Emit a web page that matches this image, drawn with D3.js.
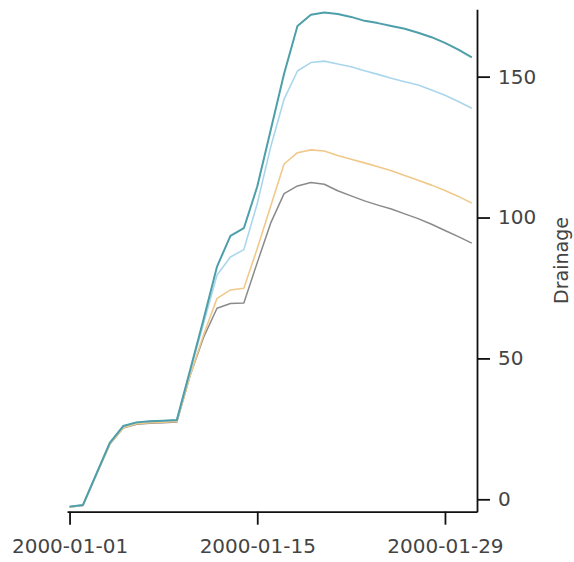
<!DOCTYPE html>
<html>
<head>
<meta charset="utf-8">
<script src="https://cdn.jsdelivr.net/npm/d3@7"></script>
<style>
  body { margin: 0; background: #fff; }
  svg { display: block; }
</style>
</head>
<body>
<div id="chart"></div>
<script>
// daily dates, 2000-01-01 .. 2000-01-31
const startDate = "2000-01-01";
const nDays = 31;
const tickDates = ["2000-01-01", "2000-01-15", "2000-01-29"];
const yTicks = [0, 50, 100, 150];

// drainage series (one value per day)
const seriesTeal = [-2.6, -2.0, 9, 20, 26, 27.3, 27.7, 27.9, 28.1, 46, 64, 82.6, 93.5, 96.2, 111, 131, 151, 168, 172, 172.8, 172.2, 171.2, 169.8, 169, 168, 167, 165.6, 164, 162, 159.6, 156.8];
const seriesLightBlue = [-2.6, -2.0, 9, 20, 26, 27.3, 27.7, 27.9, 28.1, 45.5, 62.5, 79.6, 86, 88.6, 105, 125, 142, 152, 155, 155.5, 154.5, 153.5, 152.1, 150.8, 149.4, 148.2, 147, 145.3, 143.4, 141.2, 138.8];
const seriesOrange = [-2.7, -2.2, 8.7, 19.5, 25.4, 26.8, 27.2, 27.4, 27.6, 44, 58.5, 71.3, 74.3, 74.9, 89, 104, 119, 123, 124, 123.6, 122, 120.7, 119.4, 118, 116.6, 114.9, 113.2, 111.5, 109.6, 107.5, 105.1];
const seriesGray = [-2.7, -2.2, 8.7, 19.5, 25.3, 26.6, 27, 27.2, 27.4, 44, 57.5, 67.8, 69.5, 69.7, 84, 98, 108.5, 111.2, 112.4, 111.8, 109.5, 107.7, 105.9, 104.4, 103, 101.3, 99.6, 97.6, 95.4, 93.2, 90.9];

const width = 574, height = 562;
const DAY = 864e5;
const t0 = new Date(startDate + "T00:00:00Z").getTime();
const dates = d3.range(nDays).map(i => new Date(t0 + i * DAY));

// drawn bottom to top
const lines = [
  { values: seriesGray, color: "#8a8a8a", w: 1.5 },
  { values: seriesOrange, color: "#f0c98a", w: 1.6 },
  { values: seriesLightBlue, color: "#aad6ec", w: 1.6 },
  { values: seriesTeal, color: "#4d9fa9", w: 2 }
];

const svg = d3.select("#chart").append("svg")
  .attr("width", width)
  .attr("height", height);

const x = d3.scaleUtc()
  .domain([new Date(t0 - 0.19 * DAY), new Date(t0 + 30.39 * DAY)])
  .range([67, 477]);

const y = d3.scaleLinear()
  .domain([-4.4, 173.9])
  .range([511.7, 9.3]);

const line = d3.line()
  .x((d, i) => x(dates[i]))
  .y(d => y(d));

svg.append("g")
  .selectAll("path")
  .data(lines)
  .join("path")
  .attr("fill", "none")
  .attr("stroke", d => d.color)
  .attr("stroke-width", d => d.w)
  .attr("stroke-linejoin", "round")
  .attr("d", d => line(d.values));

// x axis
svg.append("g")
  .attr("transform", `translate(0,${y.range()[0]})`)
  .call(d3.axisBottom(x)
    .tickValues(tickDates.map(s => new Date(s + "T00:00:00Z")))
    .tickFormat(d3.utcFormat("%Y-%m-%d"))
    .tickSize(13)
    .tickSizeOuter(0)
    .tickPadding(14));

// y axis on the right
svg.append("g")
  .attr("transform", `translate(${x.range()[1]},0)`)
  .call(d3.axisRight(y)
    .tickValues(yTicks)
    .tickSize(13)
    .tickSizeOuter(0)
    .tickPadding(8));

svg.selectAll(".domain, .tick line")
  .attr("stroke", "#111")
  .attr("stroke-width", 1.8);

svg.selectAll(".tick text")
  .attr("fill", "#444")
  .style("font-family", "'DejaVu Sans', sans-serif")
  .style("font-size", "20px");

svg.append("text")
  .attr("transform", `translate(568,${(y.range()[0] + y.range()[1]) / 2}) rotate(-90)`)
  .attr("text-anchor", "middle")
  .attr("fill", "#444")
  .style("font-family", "'DejaVu Sans', sans-serif")
  .style("font-size", "19px")
  .text("Drainage");
</script>
</body>
</html>
